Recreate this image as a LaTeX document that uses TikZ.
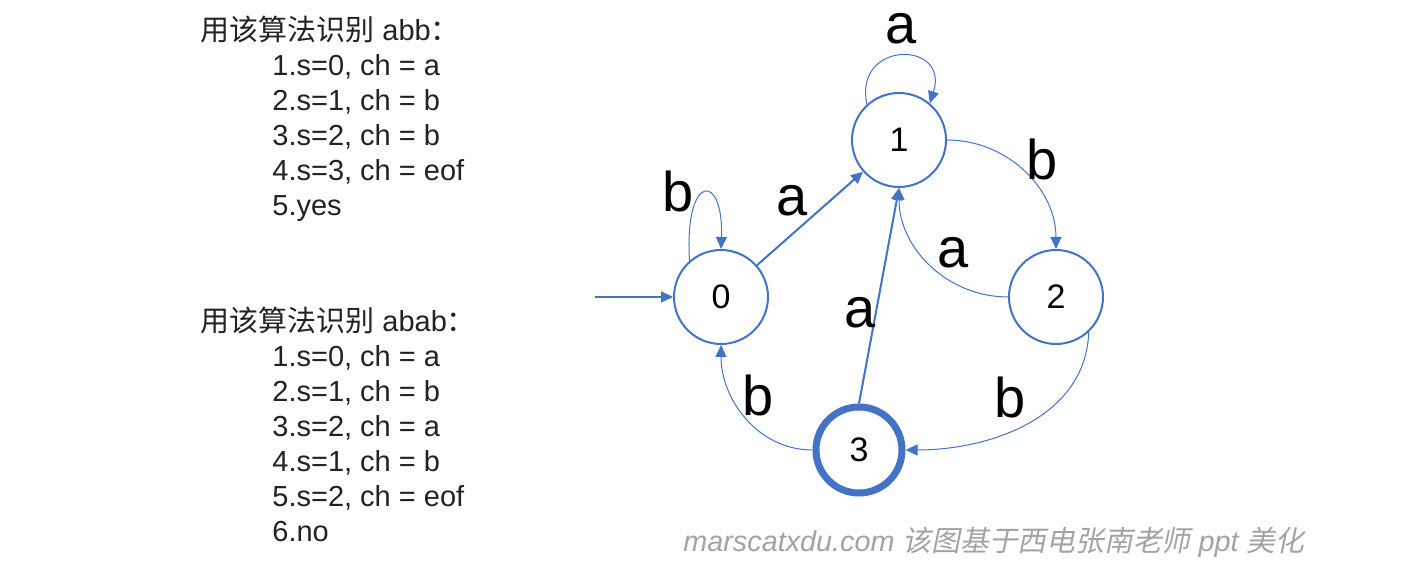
\documentclass[tikz,border=0pt]{standalone}
\usepackage{fontspec}
\setmainfont{Liberation Sans}
\newfontfamily\cjk{Noto Sans CJK SC}
\newfontfamily\cjkit[FakeSlant=0.2]{Noto Sans CJK SC}
\usetikzlibrary{arrows.meta}
\definecolor{edgeblue}{HTML}{4472C4}
\definecolor{txt}{HTML}{222222}
\definecolor{wm}{HTML}{A3A3A3}
\begin{document}
\begin{tikzpicture}[x=0.5pt,y=0.5pt,
  state/.style={circle,draw=edgeblue,line width=1pt,minimum size=47pt,inner sep=0pt,
    font=\fontsize{17}{17}\selectfont},
  accept/.style={state,line width=3.5pt,minimum size=43pt},
  tip/.style={-{Triangle[length=6pt,width=5.5pt]}},
  boldedge/.style={draw=edgeblue,line width=1pt,tip},
  fineedge/.style={draw=edgeblue,line width=0.5pt,tip},
  lab/.style={anchor=base,inner sep=0pt,font=\fontsize{28}{28}\selectfont},
  textline/.style={anchor=base west,inner sep=0pt,text=txt,font=\fontsize{14.5}{14.5}\selectfont}
]
\useasboundingbox (0,0) rectangle (1426,-571);

% left text, block 1
\node[textline] (h1) at (200,-41) {{\cjk 用该算法识别} abb{\cjk ：}};
\node[textline] (l11) at (272,-76) {1.s=0, ch = a};
\node[textline] (l12) at (272,-111) {2.s=1, ch = b};
\node[textline] (l13) at (272,-146) {3.s=2, ch = b};
\node[textline] (l14) at (272,-181) {4.s=3, ch = eof};
\node[textline] (l15) at (272,-216) {5.yes};

% left text, block 2
\node[textline] (h2) at (200,-332) {{\cjk 用该算法识别} abab{\cjk ：}};
\node[textline] (l21) at (272,-367) {1.s=0, ch = a};
\node[textline] (l22) at (272,-402) {2.s=1, ch = b};
\node[textline] (l23) at (272,-437) {3.s=2, ch = a};
\node[textline] (l24) at (272,-472) {4.s=1, ch = b};
\node[textline] (l25) at (272,-507) {5.s=2, ch = eof};
\node[textline] (l26) at (272,-542) {6.no};

% states
\node[state] (n0) at (721,-297) {0};
\node[state] (n1) at (899,-140) {1};
\node[state] (n2) at (1056,-297) {2};
\node[accept] (n3) at (859,-450) {3};
\coordinate (start) at (595,-297);

% edges
\draw[boldedge] (start) -- (n0);
\draw[boldedge] (n0) -- (n1);
\draw[boldedge] (n3.north) -- (n1.south);
\draw[fineedge] (n0.131) .. controls (684,-172) and (724,-172) .. (n0.90);
\draw[fineedge] (n1.132) .. controls (853,-40) and (950,-40) .. (n1.50);
\draw[fineedge] (n1.east) to[out=0,in=90] (n2.north);
\draw[fineedge] (n2.west) to[out=180,in=-90] (n1.south);
\draw[fineedge] (n3.west) to[out=180,in=-90] (n0.south);
\draw[fineedge] (n2.-47) to[out=-92,in=0] (n3.east);

% edge labels
\node[lab] (la01) at (792,-216) {a};
\node[lab] (lb00) at (678,-212) {b};
\node[lab] (la11) at (901,-44) {a};
\node[lab] (lb12) at (1042,-180) {b};
\node[lab] (la21) at (953,-268) {a};
\node[lab] (la31) at (860,-328) {a};
\node[lab] (lb30) at (758,-416) {b};
\node[lab] (lb23) at (1010,-418) {b};

% watermark
\node[anchor=base west,inner sep=0pt,text=wm,font=\fontsize{14.4}{14.4}\selectfont] (wm) at (683,-552)
  {\itshape marscatxdu.com {\cjkit 该图基于西电张南老师} ppt {\cjkit 美化}};
\end{tikzpicture}
\end{document}
